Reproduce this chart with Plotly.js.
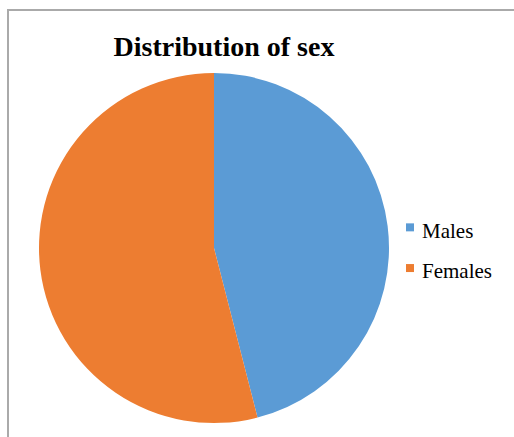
<!DOCTYPE html>
<html><head><meta charset="utf-8">
<script src="https://cdn.plot.ly/plotly-3.0.1.min.js"></script>
<style>html,body{margin:0;padding:0;background:#fff}#c{width:514px;height:437px}</style>
</head><body><div id="c"></div>
<script>
const categories = ["Males", "Females"];
const values = [46, 54];
const colors = ["#5b9bd5", "#ed7d31"];

const W = 514, H = 437;
const SERIF = "Liberation Serif, Times New Roman, serif";
Plotly.newPlot("c", [{
  type: "pie",
  labels: categories.map(c => "<span style='font-size:21px'>" + c + "</span>"),
  values: values,
  marker: {colors: colors, line: {width: 0}},
  sort: false,
  direction: "clockwise",
  rotation: 0,
  textinfo: "none",
  hoverinfo: "percent",
  domain: {x: [39/W, 389/W], y: [14/H, 364/H]}
}], {
  width: W, height: H,
  margin: {l: 0, r: 0, t: 0, b: 0},
  paper_bgcolor: "#fff",
  title: {text: "<b>Distribution of sex</b>", x: 224/W, xanchor: "center", y: 1 - 46/H, yanchor: "middle",
          font: {family: SERIF, size: 28, color: "#000"}},
  showlegend: true,
  legend: {x: 382/W, xanchor: "left", y: 1 - 247/H, yanchor: "middle",
           bgcolor: "rgba(0,0,0,0)",
           font: {family: SERIF, size: 29, color: "#000"},
           itemwidth: 30},
  shapes: [{type: "rect", xref: "paper", yref: "paper", x0: 8/W, x1: 1.05, y0: -0.05, y1: 1 - 10/H,
            line: {color: "#aaaaaa", width: 2}, fillcolor: "rgba(0,0,0,0)"}]
}, {displayModeBar: false, staticPlot: true}).then(gd => {
  gd.querySelectorAll(".legendpoints path").forEach(p => p.setAttribute("d", "M12,5H4V-3H12Z"));
});
</script></body></html>
